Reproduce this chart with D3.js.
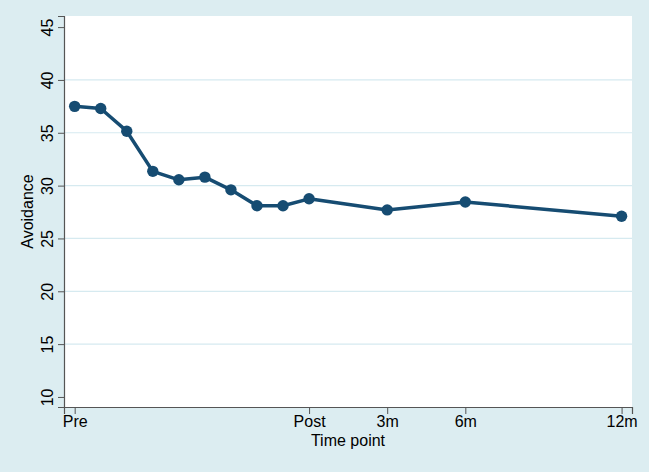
<!DOCTYPE html>
<html>
<head>
<meta charset="utf-8">
<script src="https://cdn.jsdelivr.net/npm/d3@7"></script>
<style>
  body { margin: 0; background: #dcedf1; }
  svg { display: block; font-family: "Liberation Sans", Arial, sans-serif; }
</style>
</head>
<body>
<svg width="649" height="472"></svg>
<script>
// time points (0 = Pre, 1..8 sessions, 9 = Post, then follow-ups)
var timePoints = [0, 1, 2, 3, 4, 5, 6, 7, 8, 9, 12, 15, 21];
var avoidance = [37.5, 37.3, 35.15, 31.35, 30.55, 30.8, 29.6, 28.1, 28.1, 28.75, 27.7, 28.45, 27.1];
var xTickValues = [0, 9, 12, 15, 21];
var xTickLabels = ["Pre", "Post", "3m", "6m", "12m"];
var yTickValues = [10, 15, 20, 25, 30, 35, 40, 45];

var svg = d3.select("svg"),
    margin = {top: 16, right: 17, bottom: 65, left: 64},
    width = +svg.attr("width") - margin.left - margin.right,
    height = +svg.attr("height") - margin.top - margin.bottom;

svg.append("rect")
    .attr("width", 649).attr("height", 472)
    .attr("fill", "#dcedf1");

var g = svg.append("g")
    .attr("transform", "translate(" + margin.left + "," + margin.top + ")");

g.append("rect")
    .attr("width", width).attr("height", height)
    .attr("fill", "#fff");

var x = d3.scaleLinear()
    .domain([-0.41, 21.4])
    .range([0, width]);

var y = d3.scaleLinear()
    .domain([9.05, 46.05])
    .range([height, 0]);

// gridlines (not at the ends)
g.append("g")
    .selectAll("line")
    .data(yTickValues.filter(function(d) { return d > 10 && d < 45; }))
    .enter().append("line")
    .attr("x1", 0).attr("x2", width)
    .attr("y1", function(d) { return y(d); })
    .attr("y2", function(d) { return y(d); })
    .attr("stroke", "#d6eaf0")
    .attr("stroke-width", 1.2);

var yAxis = g.append("g")
    .call(d3.axisLeft(y).tickValues(yTickValues).tickSize(6).tickPadding(4));
yAxis.select(".domain").attr("stroke", "#555").attr("stroke-width", 1.2);
yAxis.selectAll(".tick line").attr("stroke", "#555");
yAxis.selectAll(".tick text")
    .attr("font-size", 16)
    .attr("fill", "#000")
    .attr("text-anchor", "middle")
    .attr("x", null).attr("dy", null)
    .attr("transform", "translate(-11,0) rotate(-90)");

var xAxis = g.append("g")
    .attr("transform", "translate(0," + height + ")")
    .call(d3.axisBottom(x).tickValues(xTickValues)
        .tickFormat(function(d, i) { return xTickLabels[i]; })
        .tickSize(7).tickPadding(2));
xAxis.select(".domain").attr("stroke", "#555").attr("stroke-width", 1.2);
xAxis.selectAll(".tick line").attr("stroke", "#555");
xAxis.selectAll(".tick text").attr("font-size", 16).attr("fill", "#000");

var line = d3.line()
    .x(function(d, i) { return x(timePoints[i]); })
    .y(function(d) { return y(d); });

g.append("path")
    .datum(avoidance)
    .attr("fill", "none")
    .attr("stroke", "#164c72")
    .attr("stroke-width", 3.5)
    .attr("stroke-linejoin", "round")
    .attr("d", line);

g.selectAll(".dot")
    .data(avoidance)
    .enter().append("circle")
    .attr("cx", function(d, i) { return x(timePoints[i]); })
    .attr("cy", function(d) { return y(d); })
    .attr("r", 5.7)
    .attr("fill", "#164c72");

svg.append("text")
    .attr("transform", "translate(33," + (margin.top + height / 2) + ") rotate(-90)")
    .attr("text-anchor", "middle")
    .attr("font-size", 16)
    .text("Avoidance");

svg.append("text")
    .attr("x", margin.left + width / 2)
    .attr("y", 446)
    .attr("text-anchor", "middle")
    .attr("font-size", 16)
    .text("Time point");
</script>
</body>
</html>
